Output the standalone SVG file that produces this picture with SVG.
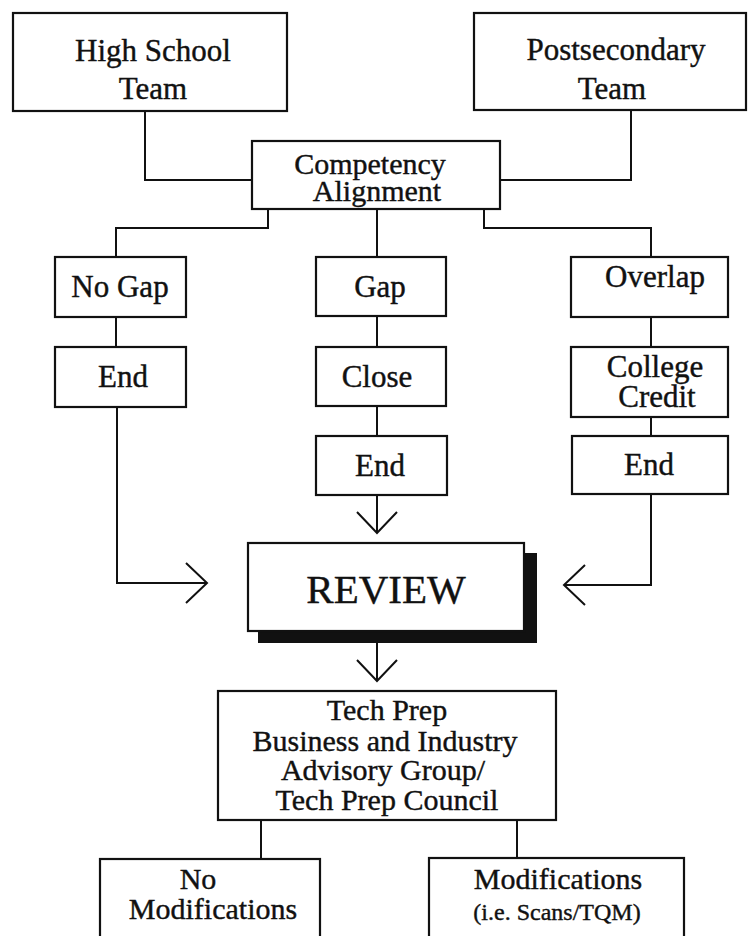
<svg xmlns="http://www.w3.org/2000/svg" width="749" height="936" viewBox="0 0 749 936">
<defs>
<style>
.box{fill:#fff;stroke:#111;stroke-width:2.2}
.conn{fill:none;stroke:#111;stroke-width:2}
text{font-family:"Liberation Serif","Times New Roman",serif;font-size:31px;fill:#111;stroke:#111;stroke-width:0.4;text-anchor:middle}
.big{font-size:41px}
.mid{font-size:30px}
.small{font-size:24px}
</style>
<marker id="chev" markerUnits="userSpaceOnUse" markerWidth="26" markerHeight="46" refX="22" refY="21" orient="auto" overflow="visible">
<path d="M1,1 L22,21 L1,41" fill="none" stroke="#111" stroke-width="2"/>
</marker>
</defs>
<rect width="749" height="936" fill="#fff"/>
<g id="connectors">
<path class="conn" d="M145,111 V180 H252"/>
<path class="conn" d="M631,110 V180 H500"/>
<path class="conn" d="M268,209 V228 H116 V257"/>
<path class="conn" d="M377,209 V257"/>
<path class="conn" d="M484,209 V228 H651 V257"/>
<path class="conn" d="M116,317 V347"/>
<path class="conn" d="M117,407 V583 H207" marker-end="url(#chev)"/>
<path class="conn" d="M377,316 V347"/>
<path class="conn" d="M377,406 V436"/>
<path class="conn" d="M377,495 V533" marker-end="url(#chev)"/>
<path class="conn" d="M651,317 V347"/>
<path class="conn" d="M651,417 V436"/>
<path class="conn" d="M651,494 V585 H564" marker-end="url(#chev)"/>
<path class="conn" d="M377,643 V681" marker-end="url(#chev)"/>
<path class="conn" d="M261,820 V859"/>
<path class="conn" d="M517,820 V858"/>
</g>
<g id="high-school">
<rect class="box" x="13" y="13" width="274" height="98"/>
<text x="153" y="61">High School</text>
<text x="153" y="99">Team</text>
</g>
<g id="postsecondary">
<rect class="box" x="474" y="13" width="272" height="97"/>
<text x="616" y="60">Postsecondary</text>
<text x="612" y="99">Team</text>
</g>
<g id="competency">
<rect class="box" x="252" y="141" width="248" height="68"/>
<text class="mid" x="370" y="174">Competency</text>
<text class="mid" x="377" y="201">Alignment</text>
</g>
<g id="no-gap">
<rect class="box" x="55" y="257" width="131" height="60"/>
<text x="120" y="297">No Gap</text>
</g>
<g id="end-left">
<rect class="box" x="55" y="347" width="131" height="60"/>
<text x="123" y="387">End</text>
</g>
<g id="gap">
<rect class="box" x="316" y="257" width="130" height="59"/>
<text x="380" y="297">Gap</text>
</g>
<g id="close">
<rect class="box" x="316" y="347" width="130" height="59"/>
<text x="377" y="387">Close</text>
</g>
<g id="end-mid">
<rect class="box" x="316" y="436" width="131" height="59"/>
<text x="380" y="476">End</text>
</g>
<g id="overlap">
<rect class="box" x="571" y="257" width="157" height="60"/>
<text x="655" y="287">Overlap</text>
</g>
<g id="college-credit">
<rect class="box" x="571" y="347" width="157" height="70"/>
<text x="655" y="377">College</text>
<text x="657" y="407">Credit</text>
</g>
<g id="end-right">
<rect class="box" x="572" y="436" width="156" height="58"/>
<text x="649" y="475">End</text>
</g>
<g id="review">
<rect x="258" y="553" width="279" height="90" fill="#111"/>
<rect class="box" x="248" y="543" width="276" height="88"/>
<text class="big" x="386" y="603">REVIEW</text>
</g>
<g id="tech-prep">
<rect class="box" x="218" y="691" width="338" height="129"/>
<text class="mid" x="387" y="720">Tech Prep</text>
<text class="mid" x="385" y="751">Business and Industry</text>
<text class="mid" x="383" y="780">Advisory Group/</text>
<text class="mid" x="387" y="810">Tech Prep Council</text>
</g>
<g id="no-modifications">
<rect class="box" x="100" y="859" width="220" height="90"/>
<text class="mid" x="198" y="889">No</text>
<text class="mid" x="213" y="919">Modifications</text>
</g>
<g id="modifications">
<rect class="box" x="429" y="858" width="255" height="90"/>
<text class="mid" x="558" y="889">Modifications</text>
<text class="small" x="557" y="920">(i.e. Scans/TQM)</text>
</g>
</svg>
